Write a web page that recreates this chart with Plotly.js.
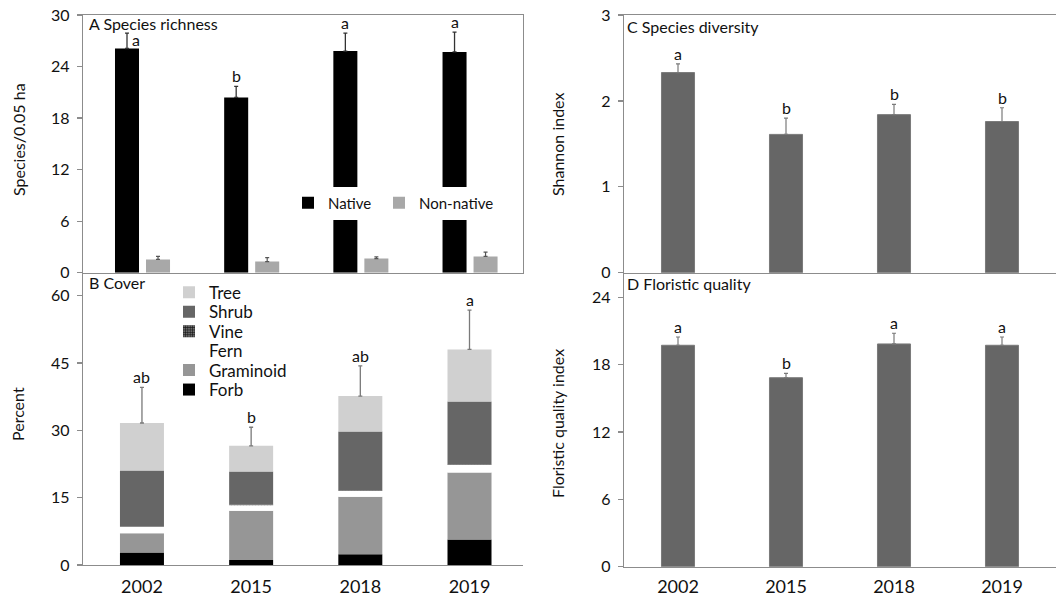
<!DOCTYPE html>
<html><head><meta charset="utf-8">
<script src="https://cdn.plot.ly/plotly-3.0.1.min.js"></script>
<style>html,body{margin:0;padding:0;background:#fff}#chart{width:1058px;height:597px}</style>
</head><body><div id="chart"></div>
<script>
// ---------- data ----------
const years = ['2002', '2015', '2018', '2019'];

const nativeRich = [26.1, 20.4, 25.8, 25.7];
const nativeRichErr = [1.8, 1.3, 2.1, 2.3];
const nonNativeRich = [1.55, 1.3, 1.65, 1.9];
const nonNativeRichErr = [0.35, 0.45, 0.2, 0.5];
const richLetters = ['a', 'b', 'a', 'a'];

const forbCover = [2.8, 1.1, 2.4, 5.7];
const graminoidCover = [4.3, 11.0, 12.8, 14.9];
const fernCover = [1.4, 1.2, 1.3, 1.7];
const vineCover = [0.05, 0.15, 0.05, 0.05];
const shrubCover = [12.5, 7.4, 13.2, 14.1];
const treeCover = [10.6, 5.7, 7.9, 11.6];
const coverErr = [7.95, 4.15, 6.75, 8.75];
const coverLetters = ['ab', 'b', 'ab', 'a'];

const shannon = [2.33, 1.61, 1.84, 1.76];
const shannonErr = [0.10, 0.19, 0.12, 0.16];
const shannonLetters = ['a', 'b', 'b', 'b'];

const fqi = [19.73, 16.84, 19.85, 19.73];
const fqiErr = [0.74, 0.39, 0.95, 0.74];
const fqiLetters = ['a', 'b', 'a', 'a'];

// ---------- helpers ----------
const W = 1058, H = 597;
const px = v => v / W;
const py = v => 1 - v / H;
const FONT = 'Lato, "Open Sans", sans-serif';
const AX = '#8c8c8c';
const TXT = '#111111';

function upErr(arr, color, thick) {
  return {type: 'data', array: arr, arrayminus: arr.map(() => 0), symmetric: false,
          visible: true, color: color, thickness: thick || 1.2, width: 2};
}

const traces = [];

// Panel A
traces.push({type: 'bar', x: years, y: nativeRich, xaxis: 'x', yaxis: 'y', name: 'Native',
  marker: {color: '#000000', line: {width: 0}}, width: 0.22, offset: -0.247,
  error_y: upErr(nativeRichErr, '#333333', 1.3), legend: 'legend', hoverinfo: 'skip'});
traces.push({type: 'bar', x: years, y: nonNativeRich, xaxis: 'x', yaxis: 'y', name: 'Non-native',
  marker: {color: '#a8a8a8', line: {width: 0}}, width: 0.22, offset: 0.037,
  error_y: upErr(nonNativeRichErr, '#555555', 1.2), legend: 'legend8', hoverinfo: 'skip'});

// Panel B (stacked using base)
const layers = [
  {name: 'Forb', vals: forbCover, color: '#000000', lg: 'legend7'},
  {name: 'Graminoid', vals: graminoidCover, color: '#969696', lg: 'legend6'},
  {name: 'Fern', vals: fernCover, color: '#ffffff', lg: 'legend5'},
  {name: 'Vine', vals: vineCover, color: '#3a3a3a', lg: 'legend4', pattern: true},
  {name: 'Shrub', vals: shrubCover, color: '#666666', lg: 'legend3'},
  {name: 'Tree', vals: treeCover, color: '#d0d0d0', lg: 'legend2'}
];
let base = years.map(() => 0);
layers.forEach(L => {
  const m = {color: L.color, line: {width: 0}};
  if (L.pattern) m.pattern = {shape: '+', fgcolor: '#111111', bgcolor: '#6a6a6a', size: 3, solidity: 0.4};
  traces.push({type: 'bar', x: years, y: L.vals, base: base.slice(), xaxis: 'x2', yaxis: 'y2',
    name: L.name, marker: m, width: 0.403, legend: L.lg, hoverinfo: 'skip'});
  base = base.map((b, i) => b + L.vals[i]);
});
const coverTotal = base;
traces.push({type: 'scatter', mode: 'markers', x: years, y: coverTotal, xaxis: 'x2', yaxis: 'y2',
  marker: {size: 1, opacity: 0}, error_y: upErr(coverErr, '#7a7a7a', 1.3), showlegend: false, hoverinfo: 'skip'});

// Panel C
traces.push({type: 'bar', x: years, y: shannon, xaxis: 'x3', yaxis: 'y3', name: 'Shannon',
  marker: {color: '#666666', line: {width: 1, color: '#7a7a7a'}}, width: 0.306,
  error_y: upErr(shannonErr, '#7a7a7a', 1.2), showlegend: false, hoverinfo: 'skip'});
// Panel D
traces.push({type: 'bar', x: years, y: fqi, xaxis: 'x4', yaxis: 'y4', name: 'FQI',
  marker: {color: '#666666', line: {width: 1, color: '#7a7a7a'}}, width: 0.306,
  error_y: upErr(fqiErr, '#7a7a7a', 1.2), showlegend: false, hoverinfo: 'skip'});

// ---------- axes ----------
function xAx(dom, range, anchor, showLabels, mirror, standoff) {
  return {domain: dom, range: range, type: 'category', anchor: anchor, showline: true, linecolor: AX,
    linewidth: 1.3, mirror: mirror, ticks: '', showgrid: false, zeroline: false, fixedrange: true,
    showticklabels: showLabels, tickfont: {family: FONT, size: 18, color: TXT}, ticklabelstandoff: standoff};
}
function yAx(dom, range, tickvals, anchor, mirror) {
  return {domain: dom, range: range, anchor: anchor, showline: true, linecolor: AX, linewidth: 1.3,
    mirror: mirror, ticks: 'outside', ticklen: 5, tickcolor: AX, tickwidth: 1.3, tickvals: tickvals,
    showgrid: false, zeroline: false, fixedrange: true, ticklabelstandoff: 4,
    tickfont: {family: FONT, size: 16, color: TXT}};
}
const leftDom = [px(83), px(523)];
const rightDom = [px(624), px(1056)];
const topDom = [py(272.7), py(15)];
const botDomB = [py(565), py(272)];
const botDomD = [py(566.7), py(272)];

// ---------- annotations ----------
const ann = [];
function label(text, x, y) {
  ann.push({text: text, xref: 'paper', yref: 'paper', x: px(x), y: py(y), xanchor: 'left', yanchor: 'middle',
    showarrow: false, font: {family: FONT, size: 16, color: TXT}});
}
label('A Species richness', 87, 23);
label('B Cover', 87, 282);
label('C Species diversity', 625, 26);
label('D Floristic quality', 625, 283);

function ytitle(text, x, y) {
  ann.push({text: text, xref: 'paper', yref: 'paper', x: px(x), y: py(y), xanchor: 'center', yanchor: 'middle',
    textangle: -90, showarrow: false, font: {family: FONT, size: 16, color: TXT}});
}
ytitle('Species/0.05 ha', 18, 140);
ytitle('Percent', 17, 414);
ytitle('Shannon index', 557, 145);
ytitle('Floristic quality index', 557, 424);

// category axes: annotation x given as category index
function letters(arr, tops, xref, yref) {
  arr.forEach((t, i) => {
    ann.push({text: t, x: i, y: tops[i], xref: xref, yref: yref, xanchor: 'center', yanchor: 'bottom',
      yshift: -1, showarrow: false, font: {family: FONT, size: 16, color: TXT}});
  });
}
const richTops = nativeRich.map((v, i) => v + nativeRichErr[i]);
richLetters.forEach((t, i) => {
  const first = i === 0; // first label sits beside its error bar (room taken by panel title)
  ann.push({text: t, x: i, y: richTops[i], xref: 'x', yref: 'y',
    xanchor: first ? 'left' : 'center', yanchor: first ? 'middle' : 'bottom',
    xshift: first ? -12 : -15, yshift: first ? -6 : -1, showarrow: false,
    font: {family: FONT, size: 16, color: TXT}});
});
letters(coverLetters, coverTotal.map((v, i) => v + coverErr[i]), 'x2', 'y2');
letters(shannonLetters, shannon.map((v, i) => v + shannonErr[i]), 'x3', 'y3');
letters(fqiLetters, fqi.map((v, i) => v + fqiErr[i]), 'x4', 'y4');

// ---------- legends ----------
function legB(yc) {
  return {x: px(169), y: py(yc), xanchor: 'left', yanchor: 'middle', bgcolor: 'rgba(0,0,0,0)',
    borderwidth: 0, font: {family: FONT, size: 17, color: TXT}, itemclick: false, itemdoubleclick: false};
}
function legA(xl) {
  return {orientation: 'h', x: px(xl), y: py(203), xanchor: 'left', yanchor: 'middle', bgcolor: '#ffffff',
    borderwidth: 0, font: {family: FONT, size: 15, color: TXT}, itemclick: false, itemdoubleclick: false};
}

const layout = {
  width: W, height: H, margin: {l: 0, r: 0, t: 0, b: 0}, paper_bgcolor: '#ffffff', plot_bgcolor: 'rgba(0,0,0,0)',
  barmode: 'overlay', showlegend: true, font: {family: FONT, color: TXT},
  xaxis: xAx(leftDom, [-0.54, 3.49], 'y', false, true, 5),
  yaxis: yAx(topDom, [0, 30], [0, 6, 12, 18, 24, 30], 'x', true),
  xaxis2: xAx(leftDom, [-0.54, 3.49], 'y2', true, false, 5),
  yaxis2: yAx(botDomB, [0, 65.3], [0, 15, 30, 45, 60], 'x2', false),
  xaxis3: xAx(rightDom, [-0.5, 3.5], 'y3', false, true, 3),
  yaxis3: yAx(topDom, [0, 3], [0, 1, 2, 3], 'x3', false),
  xaxis4: xAx(rightDom, [-0.5, 3.5], 'y4', true, false, 3),
  yaxis4: yAx(botDomD, [0, 26.26], [0, 6, 12, 18, 24], 'x4', false),
  legend: legA(288),
  legend8: legA(379),
  legend2: legB(292.7),
  legend3: legB(312.2),
  legend4: legB(331.6),
  legend5: legB(351.1),
  legend6: legB(370.5),
  legend7: legB(390),
  annotations: ann
};

Plotly.newPlot('chart', traces, layout, {staticPlot: true, displayModeBar: false});
</script>
</body></html>
